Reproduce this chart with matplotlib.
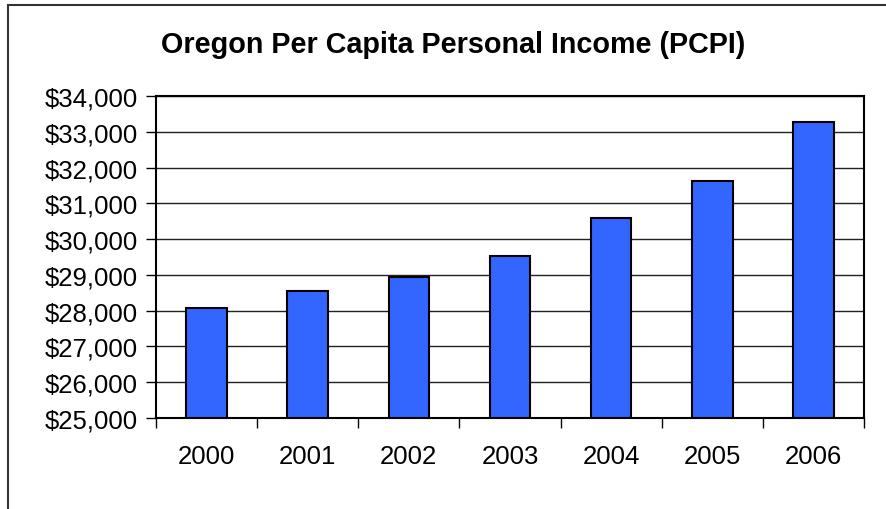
import matplotlib.pyplot as plt
import matplotlib.patches as patches
from matplotlib.ticker import FuncFormatter, FixedLocator

# data
years = ['2000', '2001', '2002', '2003', '2004', '2005', '2006']
pcpi = [28080, 28540, 28930, 29540, 30600, 31620, 33270]

plt.rcParams['font.family'] = ['Liberation Sans', 'DejaVu Sans']

fig = plt.figure(figsize=(8.86, 5.10), dpi=100)
ax = fig.add_axes([156 / 886, 1 - 419 / 510, (864 - 156) / 886, (419 - 97) / 510])

x = list(range(len(years)))
ax.bar(x, [v - 25000 for v in pcpi], bottom=25000, width=0.4,
       color='#3366FF', edgecolor='black', linewidth=1.5, zorder=3)

ax.set_xlim(-0.5, len(years) - 0.5)
ax.set_ylim(25000, 34000)
ax.set_yticks(range(25000, 34001, 1000))
ax.yaxis.set_major_formatter(FuncFormatter(lambda v, p: '${:,.0f}'.format(v)))
ax.grid(axis='y', color='#222222', linewidth=1.0, zorder=1)

# category labels centered, tick marks between categories
ax.set_xticks(x)
ax.set_xticklabels(years)
ax.xaxis.set_minor_locator(FixedLocator([i - 0.5 for i in range(len(years) + 1)]))
ax.tick_params(axis='x', which='major', length=0, pad=19, labelsize=18.5)
ax.tick_params(axis='x', which='minor', length=7, width=1.0, direction='out')
ax.tick_params(axis='y', length=7, width=1.0, pad=6, labelsize=18.5)

for s in ax.spines.values():
    s.set_linewidth(1.5)
    s.set_color('black')

fig.text(0.511, 1 - 53 / 510, 'Oregon Per Capita Personal Income (PCPI)',
         ha='center', va='baseline', fontsize=20.7, fontweight='bold')

# outer chart frame (cut off at right and bottom)
frame = patches.Rectangle((8 / 886, -0.2), 1.2, 1 - 5.5 / 510 + 0.2,
                          transform=fig.transFigure, fill=False,
                          edgecolor='#333333', linewidth=1.5)
fig.patches.append(frame)

plt.savefig('out.png', dpi=100)
